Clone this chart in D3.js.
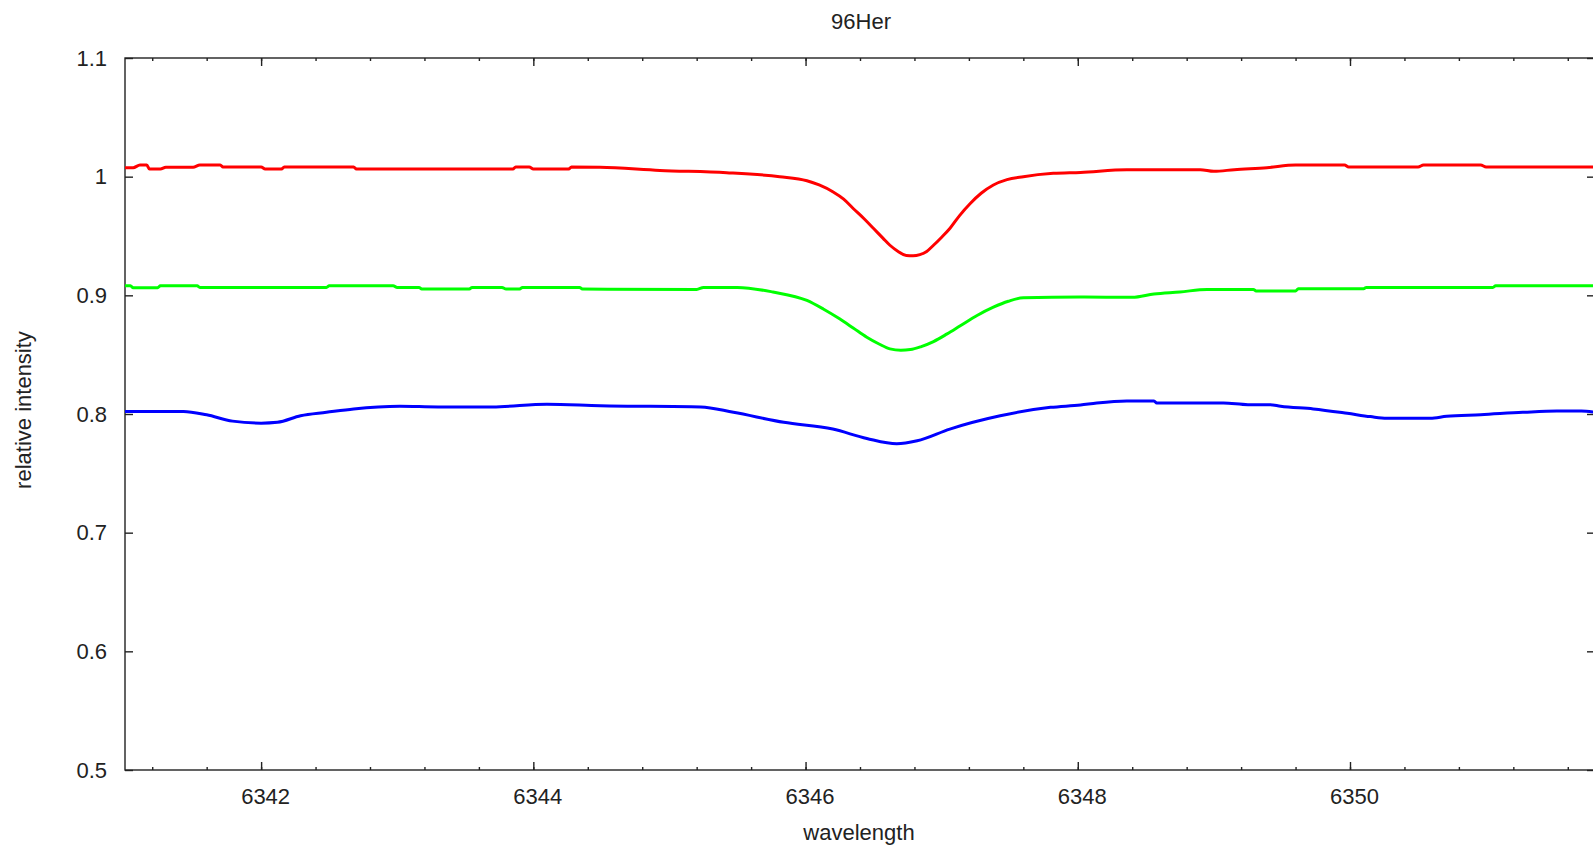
<!DOCTYPE html>
<meta charset="utf-8">
<script src="https://d3js.org/d3.v7.min.js"></script>
<style>
  body { margin: 0; background: #fff; }
  text { font-family: "Liberation Sans", Arial, sans-serif; fill: #222; }
</style>
<div id="my_dataviz"></div>
<script>

// spectra: [wavelength, relative intensity]
var redSpectrum = [
  [6341.0,1.0076],[6341.06,1.0076],[6341.11,1.0098],[6341.16,1.0098],[6341.18,1.0064],[6341.26,1.0064],
  [6341.3,1.008],[6341.5,1.008],[6341.55,1.0098],[6341.7,1.0098],[6341.72,1.0081],[6342.0,1.0081],
  [6342.03,1.0064],[6342.15,1.0064],[6342.17,1.0081],[6342.68,1.0081],[6342.7,1.0064],[6343.85,1.0064],
  [6343.87,1.0081],[6343.97,1.0081],[6344.0,1.0064],[6344.26,1.0064],[6344.28,1.0081],[6344.49,1.0079],
  [6344.93,1.0053],[6345.42,1.0034],[6345.81,1.0],[6346.01,0.9966],[6346.1,0.993],[6346.2,0.9873],
  [6346.28,0.981],[6346.35,0.9732],[6346.43,0.9645],[6346.5,0.9563],[6346.57,0.948],[6346.62,0.9422],
  [6346.68,0.937],[6346.74,0.9335],[6346.79,0.9333],[6346.84,0.9343],[6346.89,0.937],[6346.94,0.9422],
  [6347.0,0.949],[6347.06,0.9563],[6347.13,0.967],[6347.21,0.9774],[6347.29,0.986],[6347.38,0.993],
  [6347.48,0.9975],[6347.6,1.0],[6347.82,1.0028],[6348.02,1.0036],[6348.36,1.0059],
  [6348.9,1.0059],[6349.0,1.0045],[6349.15,1.0059],[6349.39,1.0076],[6349.6,1.0098],[6349.96,1.0098],
  [6349.99,1.0081],[6350.5,1.0081],[6350.54,1.0098],[6350.96,1.0098],[6351.0,1.0081],[6351.8,1.0081]
];

var greenSpectrum = [
  [6341.0,0.9081],[6341.04,0.9081],[6341.06,0.9064],[6341.24,0.9064],[6341.26,0.908],[6341.53,0.908],
  [6341.55,0.9067],[6342.48,0.9067],[6342.5,0.908],[6342.97,0.908],[6343.0,0.9067],[6343.16,0.9067],
  [6343.18,0.9053],[6343.53,0.9053],[6343.55,0.9067],[6343.77,0.9067],[6343.8,0.9053],[6343.9,0.9053],
  [6343.92,0.9067],[6344.34,0.9067],[6344.36,0.9053],[6345.2,0.905],[6345.25,0.9067],[6345.5,0.9067],
  [6345.76,0.9028],[6346.01,0.8957],[6346.13,0.8885],[6346.25,0.8802],[6346.35,0.8725],[6346.45,0.8647],
  [6346.54,0.859],[6346.62,0.8549],[6346.7,0.8538],[6346.77,0.8543],[6346.85,0.8568],[6346.94,0.861],
  [6347.04,0.8675],[6347.14,0.8746],[6347.26,0.883],[6347.38,0.89],[6347.49,0.895],[6347.6,0.898],
  [6348.02,0.8986],[6348.4,0.8983],
  [6348.56,0.9011],[6348.75,0.9028],[6348.95,0.905],[6349.29,0.905],[6349.31,0.9036],[6349.6,0.9036],
  [6349.62,0.9056],[6350.1,0.9056],[6350.12,0.9067],[6351.05,0.9067],[6351.07,0.908],[6351.8,0.908]
];

var blueSpectrum = [
  [6341.0,0.8022],[6341.43,0.8022],[6341.6,0.7993],[6341.79,0.794],[6342.0,0.7923],[6342.12,0.793],
  [6342.29,0.7985],[6342.48,0.8014],[6342.68,0.8043],[6343.02,0.8065],[6343.3,0.806],[6343.7,0.806],
  [6344.1,0.8083],[6344.49,0.807],[6345.23,0.806],[6345.47,0.8014],[6345.84,0.793],[6346.2,0.7873],
  [6346.45,0.7794],[6346.67,0.7749],[6346.82,0.7774],[6347.06,0.7873],[6347.43,0.7985],[6347.8,0.8056],
  [6348.02,0.8076],[6348.14,0.8093],[6348.36,0.811],[6348.56,0.811],[6348.58,0.8093],[6349.07,0.8093],
  [6349.25,0.8079],[6349.41,0.8079],[6349.49,0.8065],[6349.73,0.8043],[6349.98,0.8006],[6350.15,0.7978],
  [6350.27,0.7964],[6350.59,0.7964],[6350.71,0.7981],[6350.96,0.7994],[6351.27,0.8014],[6351.52,0.8025],
  [6351.7,0.8025],[6351.8,0.8014]
];

var xMajorTicks = [6342, 6344, 6346, 6348, 6350];
var xMinorTicks = d3.range(6341.2, 6351.9, 0.4);
var yTicks = [0.5, 0.6, 0.7, 0.8, 0.9, 1.0, 1.1];

// dimensions
var margin = {top: 58, right: 0, bottom: 75, left: 125},
    width = 1470,
    height = 712;

var svg = d3.select("#my_dataviz")
  .append("svg")
    .attr("width", 1593)
    .attr("height", 845)
  .append("g")
    .attr("transform", "translate(" + margin.left + "," + margin.top + ")");

var x = d3.scaleLinear().domain([6341.0, 6351.8]).range([0, width]);
var y = d3.scaleLinear().domain([0.5, 1.1]).range([height, 0]);

function styleAxis(g) {
  g.select(".domain").remove();
  g.selectAll("line").attr("stroke", "#222").attr("stroke-width", 1.4);
  g.selectAll("text").style("font-size", "22px").style("font-family", "'Liberation Sans', Arial, sans-serif").attr("fill", "#222");
}

// bottom axis
svg.append("g")
  .attr("transform", "translate(0," + height + ")")
  .call(d3.axisBottom(x).tickValues(xMinorTicks).tickSize(-3).tickFormat(""))
  .call(styleAxis);
svg.append("g")
  .attr("transform", "translate(0," + height + ")")
  .call(d3.axisBottom(x).tickValues(xMajorTicks).tickSize(-8).tickPadding(18).tickFormat(d3.format("d")))
  .call(styleAxis)
  .selectAll("text").attr("dx", 4);

// top axis
svg.append("g")
  .call(d3.axisTop(x).tickValues(xMinorTicks).tickSize(-3).tickFormat(""))
  .call(styleAxis);
svg.append("g")
  .call(d3.axisTop(x).tickValues(xMajorTicks).tickSize(-8).tickFormat(""))
  .call(styleAxis);

// left axis
svg.append("g")
  .call(d3.axisLeft(y).tickValues(yTicks).tickSize(-8).tickPadding(18).tickFormat(function(d){ return d === 1 ? "1" : d3.format(".1f")(d); }))
  .call(styleAxis);

// right axis
svg.append("g")
  .attr("transform", "translate(" + width + ",0)")
  .call(d3.axisRight(y).tickValues(yTicks).tickSize(-8).tickFormat(""))
  .call(styleAxis);

// frame
svg.append("rect")
  .attr("x", 0).attr("y", 0)
  .attr("width", width).attr("height", height)
  .attr("fill", "none")
  .attr("stroke", "#222")
  .attr("stroke-width", 1.4);

// spectra
svg.append("clipPath").attr("id", "clip")
  .append("rect").attr("width", width).attr("height", height);

var line = d3.line()
  .curve(d3.curveMonotoneX)
  .x(function(d) { return x(d[0]); })
  .y(function(d) { return y(d[1]); });

var series = [
  {data: redSpectrum, color: "#ff0000"},
  {data: greenSpectrum, color: "#00ff00"},
  {data: blueSpectrum, color: "#0000ff"}
];

svg.append("g").attr("clip-path", "url(#clip)")
  .selectAll("path")
  .data(series)
  .enter().append("path")
    .attr("d", function(d) { return line(d.data); })
    .attr("fill", "none")
    .attr("stroke", function(d) { return d.color; })
    .attr("stroke-width", 3)
    .attr("stroke-linejoin", "round");

// title and axis labels
var root = d3.select("#my_dataviz svg");
root.append("text")
  .attr("x", 861).attr("y", 29)
  .style("text-anchor", "middle")
  .style("font-size", "22px")
  .text("96Her");

root.append("text")
  .attr("x", 859).attr("y", 840)
  .style("text-anchor", "middle")
  .style("font-size", "22px")
  .text("wavelength");

root.append("text")
  .attr("transform", "translate(31,410) rotate(-90)")
  .style("text-anchor", "middle")
  .style("font-size", "22px")
  .text("relative intensity");
</script>
